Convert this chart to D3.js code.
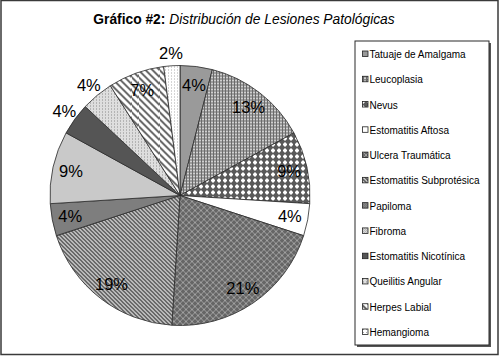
<!DOCTYPE html>
<html><head><meta charset="utf-8">
<script src="https://cdn.jsdelivr.net/npm/d3@7"></script>
<style>body{margin:0;background:#fff}svg{display:block}</style>
</head><body>
<svg id="c" width="500" height="356"></svg>
<script>
const categories = ["Tatuaje de Amalgama","Leucoplasia","Nevus","Estomatitis Aftosa","Ulcera Traumática","Estomatitis Subprotésica","Papiloma","Fibroma","Estomatitis Nicotínica","Queilitis Angular","Herpes Labial","Hemangioma"];
const values = [4,13,9,4,21,19,4,9,4,4,7,2];
const outsideLabels = ["Estomatitis Nicotínica","Queilitis Angular","Hemangioma"];
const titleBold = "Gráfico #2:";
const titleItalic = " Distribución de Lesiones Patológicas";

const svg = d3.select("#c");
const defs = svg.append("defs");
function pat(id, size, build){
  const p = defs.append("pattern").attr("id", id).attr("patternUnits","userSpaceOnUse")
    .attr("width", size).attr("height", size);
  build(p); return "url(#" + id + ")";
}
const fills = [
  "#9a9a9a",
  pat("p1",3,p=>{p.append("rect").attr("width",3).attr("height",3).attr("fill","#cfcfcf");
    p.append("rect").attr("width",3).attr("height",1).attr("fill","#6a6a6a");
    p.append("rect").attr("width",1).attr("height",3).attr("fill","#6a6a6a");}),
  pat("p2",6,p=>{p.append("rect").attr("width",6).attr("height",6).attr("fill","#5a5a5a");
    p.append("rect").attr("x",2).attr("y",1).attr("width",2).attr("height",4).attr("fill","#fff");
    p.append("rect").attr("x",1).attr("y",2).attr("width",4).attr("height",2).attr("fill","#fff");}),
  "#ffffff",
  pat("p4",6,p=>{p.append("rect").attr("width",6).attr("height",6).attr("fill","#666");
    p.append("path").attr("d","M0,0L6,6M6,0L0,6M-1,5L1,7M5,-1L7,1M-1,1L1,-1M5,7L7,5").attr("stroke","#a0a0a0").attr("stroke-width",1);}),
  pat("p5",4,p=>{p.append("rect").attr("width",4).attr("height",4).attr("fill","#fff");
    p.append("path").attr("d","M-1,-1L5,5M-1,3L1,5M3,-1L5,1").attr("stroke","#555").attr("stroke-width",1.9);}),
  pat("p6",2,p=>{p.append("rect").attr("width",2).attr("height",2).attr("fill","#666");
    p.append("rect").attr("width",1).attr("height",1).attr("fill","#959595");
    p.append("rect").attr("x",1).attr("y",1).attr("width",1).attr("height",1).attr("fill","#959595");}),
  pat("p7",2,p=>{p.append("rect").attr("width",2).attr("height",2).attr("fill","#b5b5b5");
    p.append("rect").attr("width",1).attr("height",1).attr("fill","#dcdcdc");
    p.append("rect").attr("x",1).attr("y",1).attr("width",1).attr("height",1).attr("fill","#dcdcdc");}),
  "#555555",
  pat("p9",3,p=>{p.append("rect").attr("width",3).attr("height",3).attr("fill","#dedede");
    p.append("rect").attr("width",1).attr("height",1).attr("fill","#8a8a8a");}),
  pat("p10",7,p=>{p.append("rect").attr("width",7).attr("height",7).attr("fill","#fff");
    p.append("path").attr("d","M-1,-1L8,8M-1,6L1,8M6,-1L8,1").attr("stroke","#555").attr("stroke-width",1.8);}),
  pat("p11",3,p=>{p.append("rect").attr("width",3).attr("height",3).attr("fill","#fff");
    p.append("rect").attr("width",1).attr("height",1).attr("fill","#aaa");})
];

// outer frame
svg.append("rect").attr("x",1).attr("y",0.5).attr("width",497).attr("height",354)
  .attr("fill","#fff").attr("stroke","#3a3a3a").attr("stroke-width",1.5);

// title
const t = svg.append("text").attr("x",244).attr("y",24).attr("text-anchor","middle")
  .attr("font-family","Liberation Sans, Arial, sans-serif").attr("font-size",13.8).attr("fill","#000");
t.append("tspan").attr("font-weight","bold").text(titleBold);
t.append("tspan").attr("font-style","italic").text(titleItalic);

// pie
const cx = 180, cy = 195.5, R = 130;
const pie = d3.pie().sort(null).value(d=>d)(values);
const arc = d3.arc().innerRadius(0).outerRadius(R);
const g = svg.append("g").attr("transform",`translate(${cx},${cy})`);
g.selectAll("path.s").data(pie).join("path").attr("class","s")
  .attr("d",arc).attr("fill",(d,i)=>fills[i]).attr("stroke","#2a2a2a").attr("stroke-width",0.8);

const inArc = d3.arc().innerRadius(R*0.86).outerRadius(R*0.86);
const outArc = d3.arc().innerRadius(R*1.1).outerRadius(R*1.1);
g.selectAll("text.l").data(pie).join("text").attr("class","l")
  .attr("transform",(d,i)=>`translate(${(outsideLabels.includes(categories[i])?outArc:inArc).centroid(d)})`)
  .attr("text-anchor","middle").attr("dy","0.36em")
  .attr("font-family","Liberation Sans, Arial, sans-serif").attr("font-size",16.5).attr("fill","#000")
  .text(d=>d.value+"%");

// legend
const lx = 355, ly = 41, lw = 134, lh = 304;
svg.append("rect").attr("x",lx+2).attr("y",ly+2).attr("width",lw).attr("height",lh).attr("fill","#555");
svg.append("rect").attr("x",lx).attr("y",ly).attr("width",lw).attr("height",lh)
  .attr("fill","#fff").attr("stroke","#2a2a2a").attr("stroke-width",1);
const ys = d3.scalePoint().domain(categories).range([54,332]);
const lg = svg.append("g").selectAll("g").data(categories).join("g")
  .attr("transform",d=>`translate(0,${ys(d)})`);
lg.append("rect").attr("x",362.5).attr("y",-3).attr("width",5.5).attr("height",5.5)
  .attr("fill",(d,i)=>fills[i]).attr("stroke","#222").attr("stroke-width",0.8);
lg.append("text").attr("x",369.5).attr("y",0.5).attr("dy","0.35em")
  .attr("font-family","Liberation Sans, Arial, sans-serif").attr("font-size",10).attr("fill","#000")
  .text(d=>d);
</script>
</body></html>
